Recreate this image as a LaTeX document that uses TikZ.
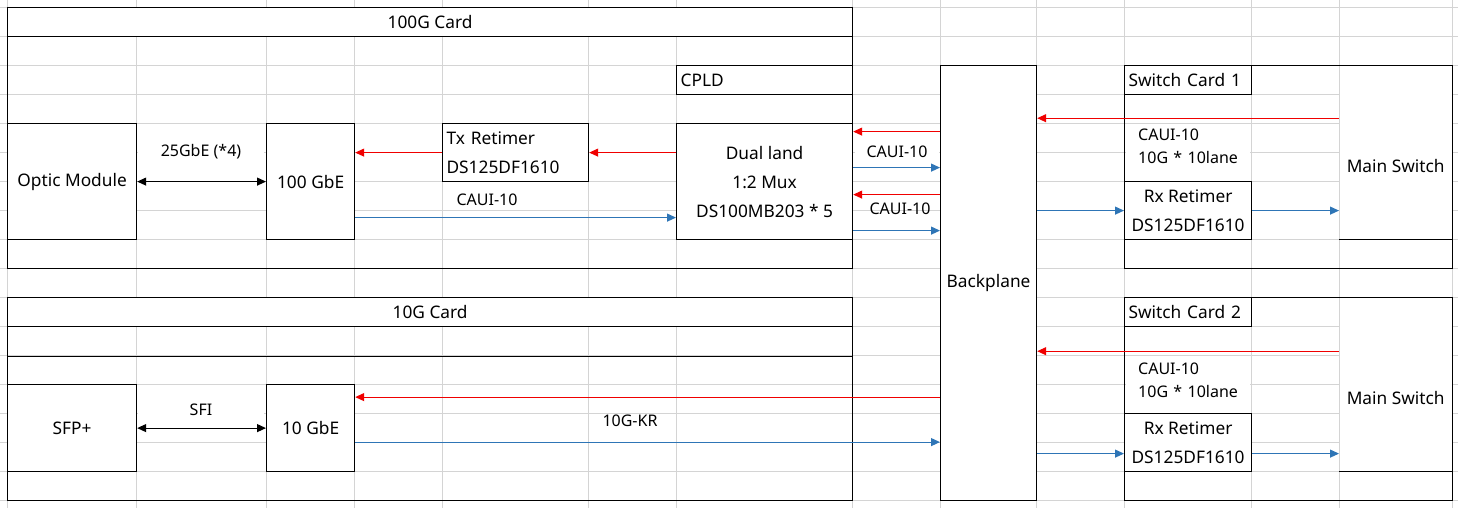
\documentclass[tikz,border=0pt]{standalone}
\usepackage{fontspec}
\setmainfont{Noto Sans}
\usetikzlibrary{arrows.meta}

\definecolor{gridgray}{RGB}{212,212,212}
\definecolor{lanered}{RGB}{240,0,0}
\definecolor{laneblue}{RGB}{46,117,182}

\begin{document}
\begin{tikzpicture}[x=1pt,y=-1pt,
	font=\fontsize{17.3}{29}\selectfont,
	>={Triangle[length=9pt,width=8pt]},
	gridline/.style={gridgray,line width=0.8pt},
	box/.style={draw,fill=white,line width=1.2pt,inner sep=0pt,anchor=north west,align=center},
	lbox/.style={box,align=left,inner xsep=4pt,text width=#1},
	card/.style={draw,line width=1.2pt,inner sep=0pt,anchor=north west},
	lbl/.style={font=\fontsize{16}{23}\selectfont,inner sep=1pt},
	txlane/.style={->,lanered,line width=1.1pt},
	rxlane/.style={->,laneblue,line width=1.1pt},
	link/.style={<->,black,line width=1.1pt}]
\useasboundingbox (0,0) rectangle (1458,508);

%----------------------------
% Sheet grid
%----------------------------
\foreach \gx in {7,136,266,354,442,588,676,852,940,1036,1124,1251,1339,1452}
	\draw[gridline] (\gx,0) -- (\gx,508);
\foreach \gy in {7,36,...,500}
	\draw[gridline] (0,\gy) -- (1458,\gy);

%----------------------------
% 100G card
%----------------------------
\node[box,minimum width=845pt,minimum height=29pt] (t100) at (7,7) {100G Card};
\node[box,minimum width=129pt,minimum height=116pt] (optic) at (7,123) {Optic Module};
\node[box,minimum width=88pt,minimum height=116pt] (gbe100) at (266,123) {100 GbE};
\node[lbox=138pt,minimum height=58pt] (txrt) at (442,123) {Tx Retimer\\DS125DF1610};
\node[lbox=168pt,minimum height=29pt] (cpld) at (676,65) {CPLD};
\node[box,minimum width=176pt,minimum height=116pt] (mux) at (676,123) {Dual land\\1:2 Mux\\DS100MB203 * 5};

%----------------------------
% 10G card
%----------------------------
\node[box,minimum width=845pt,minimum height=29pt] (t10) at (7,297) {10G Card};
\draw[line width=1.2pt] ([yshift=-29pt]t10.south west) -- ([yshift=-29pt]t10.south east);
\node[box,minimum width=129pt,minimum height=87pt] (sfp) at (7,384) {SFP+};
\node[box,minimum width=88pt,minimum height=87pt] (gbe10) at (266,384) {10 GbE};

%----------------------------
% Backplane
%----------------------------
\node[box,minimum width=96pt,minimum height=435pt] (bp) at (940,65) {Backplane};

%----------------------------
% Switch cards
%----------------------------
% switch card 1
\node[lbox=119pt,minimum height=29pt] (t1) at (1124,65) {Switch Card 1};
\node[fill=white,inner sep=0pt,anchor=north west,minimum width=113pt,minimum height=174pt] (ms1) at (1339,65) {};
\node (ms1t) at ([yshift=-14pt]ms1.center) {Main Switch};
\draw[line width=1.2pt] (ms1.south west) -- (ms1.south east);
\draw[gridline] (ms1.north west) -- (ms1.south west);
\node[box,minimum width=127pt,minimum height=58pt] (rx1) at (1124,181) {Rx Retimer\\DS125DF1610};

% switch card 2
\node[lbox=119pt,minimum height=29pt] (t2) at (1124,297) {Switch Card 2};
\node[fill=white,inner sep=0pt,anchor=north west,minimum width=113pt,minimum height=174pt] (ms2) at (1339,297) {};
\node (ms2t) at ([yshift=-14pt]ms2.center) {Main Switch};
\draw[line width=1.2pt] (ms2.south west) -- (ms2.south east);
\draw[gridline] (ms2.north west) -- (ms2.south west);
\node[box,minimum width=127pt,minimum height=58pt] (rx2) at (1124,413) {Rx Retimer\\DS125DF1610};

%----------------------------
% Card outlines
%----------------------------
\node[card,minimum width=845pt,minimum height=261pt] (card100) at (7,7) {};
\node[card,minimum width=845pt,minimum height=203pt] (card10) at (7,297) {};
\node[card,minimum width=328pt,minimum height=203pt] (sw1) at (1124,65) {};
\node[card,minimum width=328pt,minimum height=203pt] (sw2) at (1124,297) {};

%----------------------------
% Lanes on the 100G card
%----------------------------
\node[lbl,fill=white,minimum width=126pt,minimum height=26pt] (l25g) at (201,152) {25GbE (*4)};
\draw[link] (optic.east) -- (gbe100.west);
\draw[txlane] (txrt.west) -- (txrt.west -| gbe100.east);
\draw[txlane] (txrt.east -| mux.west) -- (txrt.east);
\coordinate (c1) at ([yshift=-36pt]gbe100.east);
\draw[rxlane] (c1) -- (c1 -| mux.west);
\node[lbl] (lcaui) at (487,200) {CAUI-10};

% mux <-> backplane
\coordinate (m1) at ([yshift=50pt]mux.east);
\coordinate (m2) at ([yshift=14pt]mux.east);
\coordinate (m3) at ([yshift=-13pt]mux.east);
\coordinate (m4) at ([yshift=-49pt]mux.east);
\node[lbl,fill=white,minimum width=84pt] (lcaui1) at (897,152) {CAUI-10};
\node[lbl] (lcaui2) at (900,209) {CAUI-10};
\draw[txlane] (m1 -| bp.west) -- (m1);
\draw[rxlane] (m2) -- (m2 -| bp.west);
\draw[txlane] (m3 -| bp.west) -- (m3);
\draw[rxlane] (m4) -- (m4 -| bp.west);

%----------------------------
% Lanes on the 10G card
%----------------------------
\node[lbl,fill=white,minimum width=126pt,minimum height=40pt] (lsfi) at (201,410) {SFI};
\draw[link] (sfp.east) -- (gbe10.west);
\coordinate (k1) at ([yshift=31pt]gbe10.east);
\coordinate (k2) at ([yshift=-14pt]gbe10.east);
\draw[txlane] (k1 -| bp.west) -- (k1);
\draw[rxlane] (k2) -- (k2 -| bp.west);
\node[lbl] (lkr) at (630,421) {10G-KR};

%----------------------------
% Lanes on the switch cards
%----------------------------
\node[lbl,fill=white,anchor=west,align=left,text width=100pt,inner xsep=12pt,inner ysep=5pt] (lsw1) at (1126,146) {CAUI-10\\10G * 10lane};
\coordinate (s1) at ([yshift=34pt]ms1.west);
\draw[txlane] (s1) -- (s1 -| bp.east);
\draw[rxlane] (rx1.west -| bp.east) -- (rx1.west);
\draw[rxlane] (rx1.east) -- (rx1.east -| ms1.west);

\node[lbl,fill=white,anchor=west,align=left,text width=100pt,inner xsep=12pt,inner ysep=5pt] (lsw2) at (1126,380) {CAUI-10\\10G * 10lane};
\coordinate (s2) at ([yshift=33pt]ms2.west);
\coordinate (r2) at ([yshift=-11pt]rx2.west);
\coordinate (r3) at ([yshift=-11pt]rx2.east);
\draw[txlane] (s2) -- (s2 -| bp.east);
\draw[rxlane] (r2 -| bp.east) -- (r2);
\draw[rxlane] (r3) -- (r3 -| ms2.west);

\end{tikzpicture}
\end{document}
